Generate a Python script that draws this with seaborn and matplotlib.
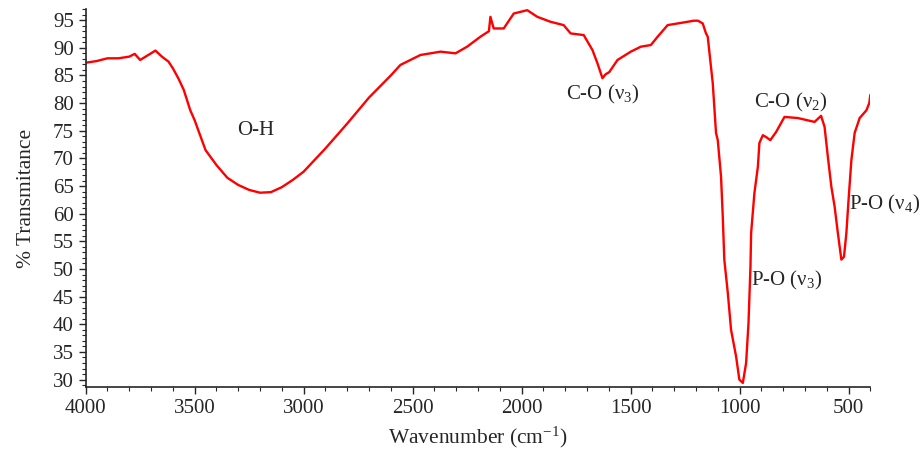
import numpy as np
import pandas as pd
import matplotlib
matplotlib.use("Agg")
import matplotlib.pyplot as plt
from matplotlib.ticker import MultipleLocator
import seaborn as sns

# values
wavenumber = [4000, 3950, 3900, 3850, 3800, 3775, 3750, 3700, 3680, 3650, 3620, 3600,
              3575, 3550, 3520, 3500, 3450, 3400, 3350, 3300, 3250, 3200, 3150, 3100,
              3050, 3000, 2950, 2900, 2800, 2700, 2600, 2556, 2464, 2372, 2303, 2250,
              2189, 2150, 2143, 2128, 2082, 2036, 1974, 1928, 1867, 1807, 1775, 1715,
              1675, 1652, 1629, 1615, 1598, 1560, 1499, 1453, 1407, 1376, 1330, 1269,
              1209, 1191, 1169, 1154, 1146, 1131, 1123, 1108, 1100, 1085, 1077, 1070,
              1054, 1039, 1016, 1001, 985, 970, 959, 950, 947, 932, 916, 909, 893, 876,
              859, 832, 794, 733, 656, 626, 610, 595, 579, 564, 549, 533, 521, 510, 500,
              487, 472, 449, 418, 405, 400]
transmittance = [87.3, 87.6, 88.1, 88.1, 88.4, 88.9, 87.8, 89.0, 89.5, 88.4, 87.5, 86.3,
                 84.5, 82.4, 78.7, 76.9, 71.5, 68.8, 66.5, 65.2, 64.3, 63.8, 63.9, 64.8,
                 66.1, 67.6, 69.7, 71.8, 76.3, 81.0, 85.0, 86.9, 88.7, 89.3, 89.0, 90.2,
                 92.0, 93.0, 95.6, 93.5, 93.5, 96.2, 96.8, 95.6, 94.7, 94.1, 92.6, 92.3,
                 89.6, 87.2, 84.5, 85.2, 85.6, 87.8, 89.3, 90.2, 90.5, 92.0, 94.1, 94.5,
                 94.9, 94.9, 94.4, 92.6, 92.0, 86.5, 83.6, 74.6, 73.3, 66.7, 59.4, 51.7,
                 45.7, 39.0, 34.2, 30.0, 29.4, 33.0, 40.2, 50.4, 56.5, 63.7, 68.5, 72.8,
                 74.2, 73.8, 73.3, 74.8, 77.5, 77.3, 76.6, 77.7, 75.7, 70.3, 64.9, 61.3,
                 56.5, 51.7, 52.2, 56.5, 62.5, 69.7, 74.6, 77.3, 78.7, 80.0, 81.5]

band_labels = ["O-H", "C-O (ν$_3$)", "C-O (ν$_2$)", "P-O (ν$_3$)", "P-O (ν$_4$)"]
band_x = [3220, 1628, 763, 947, 500]
band_y = [75.0, 81.5, 80.2, 48.0, 61.6]
band_ha = ["center", "center", "center", "left", "left"]

sns.set_style("ticks")
plt.rcParams["font.family"] = ["Liberation Serif", "DejaVu Serif"]
plt.rcParams["mathtext.fontset"] = "custom"
plt.rcParams["mathtext.rm"] = "Liberation Serif"
plt.rcParams["mathtext.it"] = "Liberation Serif"

df = pd.DataFrame({"wn": wavenumber, "T": transmittance})

fig = plt.figure(figsize=(9.21, 4.54), dpi=100)
ax = fig.add_axes([0.093, 0.148, 0.852, 0.832])
sns.lineplot(data=df, x="wn", y="T", color="#ff0000", linewidth=1.7,
             estimator=None, ax=ax)

for lab, x, y, ha in zip(band_labels, band_x, band_y, band_ha):
    ax.text(x, y, lab, fontsize=15, ha=ha, va="center")

ax.set_xlim(4000, 400)
ax.set_ylim(28.7, 97)
ax.xaxis.set_major_locator(MultipleLocator(500))
ax.xaxis.set_minor_locator(MultipleLocator(100))
ax.yaxis.set_minor_locator(MultipleLocator(1))
ax.set_yticks(range(30, 100, 5))
ax.tick_params(which="major", direction="out", length=5, width=1, labelsize=15)
ax.tick_params(which="minor", direction="out", length=3, width=0.8)
sns.despine(ax=ax)
for s in ["left", "bottom"]:
    ax.spines[s].set_linewidth(1.2)

ax.set_xlabel("Wavenumber (cm$^{-1}$)", fontsize=15.5, labelpad=5)
ax.set_ylabel("% Transmitance", fontsize=15.5, labelpad=12)

fig.savefig("out.png", dpi=100)
